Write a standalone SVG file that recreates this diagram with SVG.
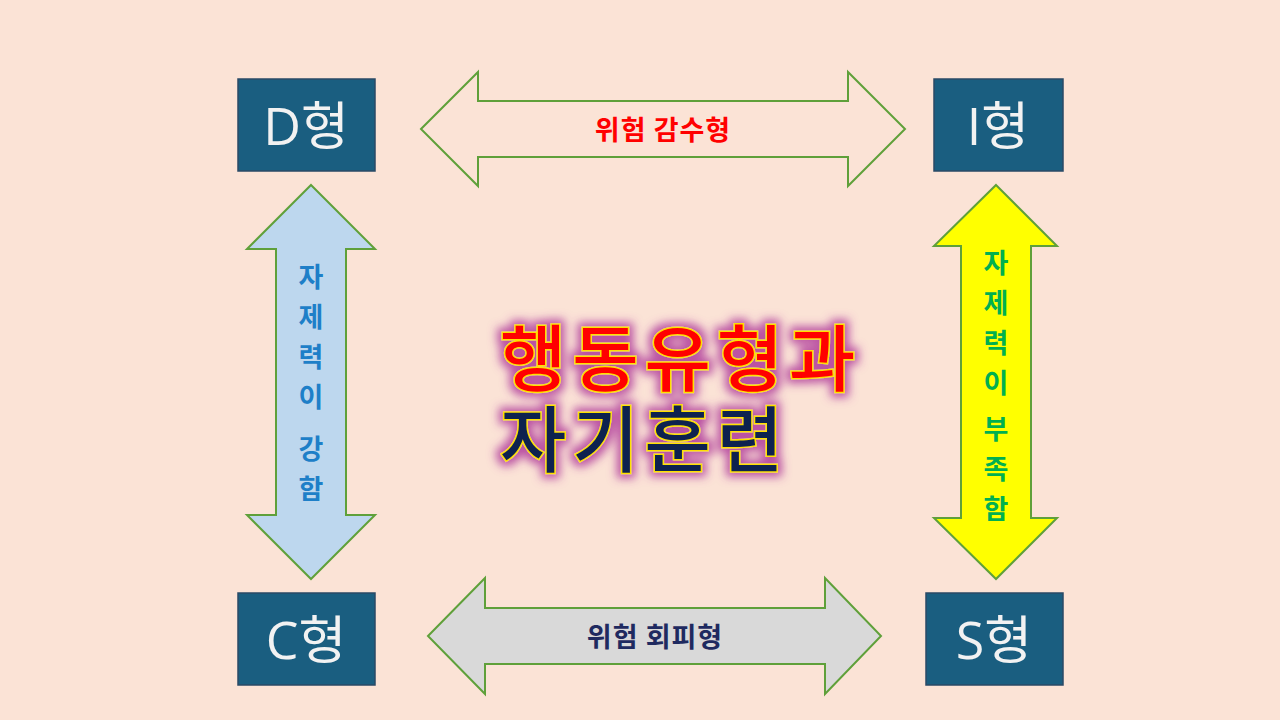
<svg xmlns="http://www.w3.org/2000/svg" width="1280" height="720" viewBox="0 0 1280 720">
<defs>
<filter id="glow" x="-20%" y="-30%" width="140%" height="160%">
<feMorphology in="SourceAlpha" operator="dilate" radius="4" result="d"/>
<feGaussianBlur in="d" stdDeviation="5" result="b"/>
<feFlood flood-color="#b03a9a" flood-opacity="0.85"/>
<feComposite in2="b" operator="in" result="g"/>
<feMerge><feMergeNode in="g"/><feMergeNode in="SourceGraphic"/></feMerge>
</filter>
</defs>
<style>
.box{fill:#1a5e80;stroke:#2a4a66;stroke-width:1.5}
.bt{font-family:"Open Sans","Noto Sans CJK KR",sans-serif;font-size:52px;fill:#f2f2f2;text-anchor:middle}
.arr{stroke:#5fa03a;stroke-width:2}
.lbl{font-family:"Noto Sans CJK KR",sans-serif;font-size:27px;font-weight:bold;text-anchor:middle}
.ttl{font-family:"Noto Sans CJK KR",sans-serif;font-size:72px;font-weight:500;letter-spacing:6px;stroke:#ffe000;stroke-width:3;paint-order:stroke}
</style>
<rect width="1280" height="720" fill="#fbe3d6"/>
<g id="connectors">
<polygon class="arr" fill="#fbe3d6" points="421,129 478,72 478,101 848,101 848,72 905,129 848,186 848,157 478,157 478,186"/>
<polygon class="arr" fill="#d9d9d9" points="428,636 485,578 485,608 825,608 825,578 881,636 825,694 825,664 485,664 485,694"/>
<polygon class="arr" fill="#bdd7ee" points="311,185 375,249 346,249 346,515 375,515 311,579 247,515 276,515 276,249 247,249"/>
<polygon class="arr" fill="#ffff00" points="996,185 1057,246 1031,246 1031,518 1057,518 996,579 934,518 961,518 961,246 934,246"/>
<text class="lbl" x="663" y="140" fill="#ff0000" letter-spacing="1">위험 감수형</text>
<text class="lbl" x="655" y="647" fill="#1f2a60" letter-spacing="1">위험 회피형</text>
<g class="lbl" fill="#1e7fc8">
<text x="311" y="287">자</text><text x="311" y="327">제</text><text x="311" y="367">력</text><text x="311" y="407">이</text><text x="311" y="459">강</text><text x="311" y="499">함</text>
</g>
<g class="lbl" fill="#00b050">
<text x="996" y="273">자</text><text x="996" y="313">제</text><text x="996" y="353">력</text><text x="996" y="393">이</text><text x="996" y="439">부</text><text x="996" y="479">족</text><text x="996" y="519">함</text>
</g>
</g>
<g id="D"><rect class="box" x="238" y="79" width="137" height="92"/><text class="bt" x="306" y="145">D형</text></g>
<g id="I"><rect class="box" x="934" y="79" width="129" height="92"/><text class="bt" x="998" y="145">I형</text></g>
<g id="C"><rect class="box" x="238" y="593" width="137" height="92"/><text class="bt" x="306" y="659">C형</text></g>
<g id="S"><rect class="box" x="926" y="593" width="137" height="92"/><text class="bt" x="994" y="659">S형</text></g>
<g id="title" filter="url(#glow)">
<text class="ttl" x="500" y="385" fill="#ff0000">행동유형과</text>
<text class="ttl" x="500" y="466" fill="#0f2050">자기훈련</text>
</g>
</svg>
